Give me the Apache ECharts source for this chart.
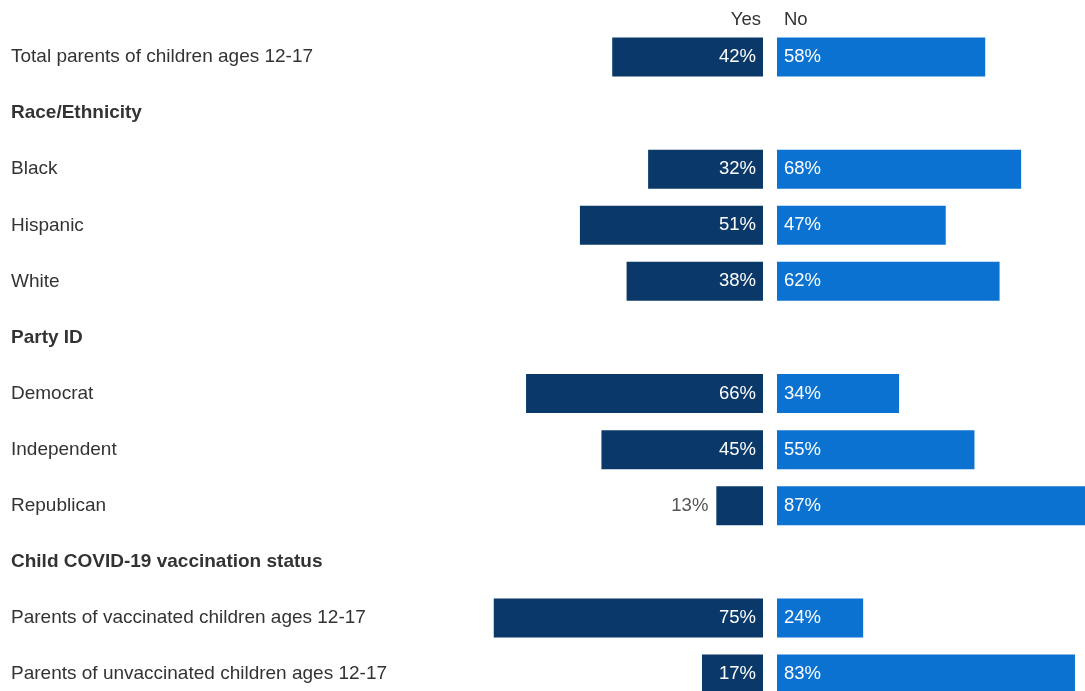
<!DOCTYPE html>
<html><head><meta charset="utf-8">
<script src="https://cdn.jsdelivr.net/npm/echarts@6/dist/echarts.min.js"></script>
<style>html,body{margin:0;padding:0;background:#fff}#c{width:1085px;height:691px}</style>
</head><body><div id="c"></div>
<script>
const categories = ['Total parents of children ages 12-17','Race/Ethnicity','Black','Hispanic','White','Party ID','Democrat','Independent','Republican','Child COVID-19 vaccination status','Parents of vaccinated children ages 12-17','Parents of unvaccinated children ages 12-17'];
const headers = ['Race/Ethnicity','Party ID','Child COVID-19 vaccination status'];
const yesValues = [42,null,32,51,38,null,66,45,13,null,75,17];
const noValues = [58,null,68,47,62,null,34,55,87,null,24,83];
const seriesNames = ['Yes','No'];

const YES_COLOR = '#0a3969', NO_COLOR = '#0b72d1', TXT = '#333';
const FONT = 'Liberation Sans, Arial, sans-serif';
const FS = 19;
const PX_PER_PCT = 3.59;
const chart = echarts.init(document.getElementById('c'));
const TOP = 57, H = 617;
const rightW = 1085 - 777;
chart.setOption({
  animation:false,
  textStyle:{fontFamily:FONT},
  title:[
    {text:seriesNames[0], right:1085-766, top:5, textStyle:{fontSize:18.5,fontWeight:'normal',color:TXT,fontFamily:FONT}},
    {text:seriesNames[1], left:779, top:5, textStyle:{fontSize:18.5,fontWeight:'normal',color:TXT,fontFamily:FONT}}
  ],
  grid:[
    {left:404, width:359, top:TOP, height:H},
    {left:777, right:0, top:TOP, height:H}
  ],
  xAxis:[
    {gridIndex:0, type:'value', min:0, max:100, inverse:true, show:false},
    {gridIndex:1, type:'value', min:0, max:rightW/PX_PER_PCT, show:false}
  ],
  yAxis:[
    {gridIndex:0, type:'category', data:categories, inverse:true, position:'left', boundaryGap:false,
     axisLine:{show:false,onZero:false}, axisTick:{show:false}, splitLine:{show:false},
     axisLabel:{margin:393, align:'left', fontSize:FS, color:TXT, fontFamily:FONT,
       formatter:v=> headers.includes(v) ? '{h|'+v+'}' : v,
       rich:{h:{fontWeight:'bold', fontSize:FS, color:TXT, fontFamily:FONT}}}},
    {gridIndex:1, type:'category', data:categories, inverse:true, boundaryGap:false, show:false}
  ],
  series:[
    {name:seriesNames[0], type:'bar', xAxisIndex:0, yAxisIndex:0, barWidth:39, clip:false,
     itemStyle:{color:YES_COLOR},
     data:yesValues.map(v=> v==null ? null : (v<15 ? {value:v,label:{position:'left',color:'#555',distance:8}} : v)),
     label:{show:true, position:'insideRight', distance:7, color:'#fff', fontSize:18.5, fontFamily:FONT, formatter:p=>p.value+'%'}},
    {name:seriesNames[1], type:'bar', xAxisIndex:1, yAxisIndex:1, barWidth:39, clip:false,
     itemStyle:{color:NO_COLOR},
     data:noValues,
     label:{show:true, position:'insideLeft', distance:7, color:'#fff', fontSize:18.5, fontFamily:FONT, formatter:p=>p.value+'%'}}
  ]
});
</script></body></html>
